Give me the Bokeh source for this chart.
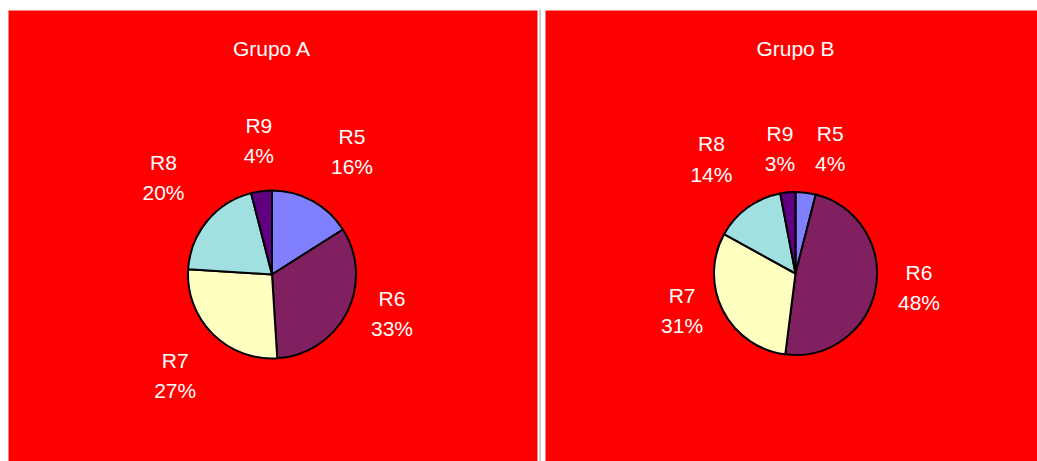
import math
from bokeh.plotting import figure
from bokeh.models import Range1d, ColumnDataSource
from bokeh.core.properties import value
from bokeh.embed import file_html
from bokeh.resources import INLINE

# ---- data ----
categories = ["R5", "R6", "R7", "R8", "R9"]
grupo_a = [16, 33, 27, 20, 4]
grupo_b = [4, 48, 31, 14, 3]
titles = ["Grupo A", "Grupo B"]
slice_colors = ["#8080FF", "#802060", "#FFFFC0", "#A0E0E0", "#600080"]

# ---- layout (pixels) ----
W, H = 1037, 461
panels = [(8, 537), (545, 1037)]       # x extents of the red panels
panel_top, panel_bottom = 10, 461      # screen y
centers = [(271.5, 274), (795, 273)]   # screen coords of pie centres
radii = [84, 81.5]
title_y = 48
label_factor = 1.63
# small "best fit" nudges of the data labels (screen px, dx, dy)
label_nudges = [
    [(14, -3), (-2, -23), (0, 4), (-3, -10), (4, 2)],
    [(18, 7), (-7, -11), (5, -23), (-6, -7), (-3, 7)],
]
FONT = "Liberation Sans"
FS = "21px"

p = figure(width=W, height=H, output_backend="svg", toolbar_location=None,
           x_range=Range1d(0, W), y_range=Range1d(0, H),
           x_axis_location=None, y_axis_location=None, min_border=0)
p.grid.visible = False
p.outline_line_color = None
p.background_fill_color = "white"
p.border_fill_color = "white"

def sy(y):
    return H - y

# red panels
p.quad(left=[a for a, b in panels], right=[b for a, b in panels],
       top=[sy(panel_top)] * 2, bottom=[sy(panel_bottom)] * 2,
       fill_color="#FF0000", line_color=None)
# separator
p.segment(x0=[539.5], x1=[539.5], y0=[sy(9)], y1=[sy(461)],
          line_color="#A0A0A0", line_width=1)

for values, title, (cx, cy), r, nudges in zip([grupo_a, grupo_b], titles,
                                               centers, radii, label_nudges):
    total = float(sum(values))
    starts, ends, lx, ly, texts = [], [], [], [], []
    cum = 0.0
    for cat, v, (ndx, ndy) in zip(categories, values, nudges):
        f0 = cum / total
        cum += v
        f1 = cum / total
        starts.append(math.pi / 2 - 2 * math.pi * f0)
        ends.append(math.pi / 2 - 2 * math.pi * f1)
        mid = 2 * math.pi * (f0 + f1) / 2  # clockwise from top
        d = r * label_factor
        lx.append(cx + d * math.sin(mid) + ndx)
        ly.append(sy(cy) + d * math.cos(mid) - ndy)
        texts.append(f"{cat}\n{round(100 * v / total)}%")
    src = ColumnDataSource(dict(start=starts, end=ends, color=slice_colors))
    p.wedge(x=cx, y=sy(cy), radius=r, start_angle="start", end_angle="end",
            direction="clock", fill_color="color", line_color="black",
            line_width=2, source=src)
    p.text(x=lx, y=ly, text=texts, text_color="white",
           text_font=value(FONT), text_font_size=FS,
           text_align="center", text_baseline="middle", text_line_height=1.32)
    p.text(x=[cx], y=[sy(title_y)], text=[title], text_color="white",
           text_font=value(FONT), text_font_size=FS,
           text_align="center", text_baseline="middle")

open("out.html", "w").write(file_html(p, INLINE))
